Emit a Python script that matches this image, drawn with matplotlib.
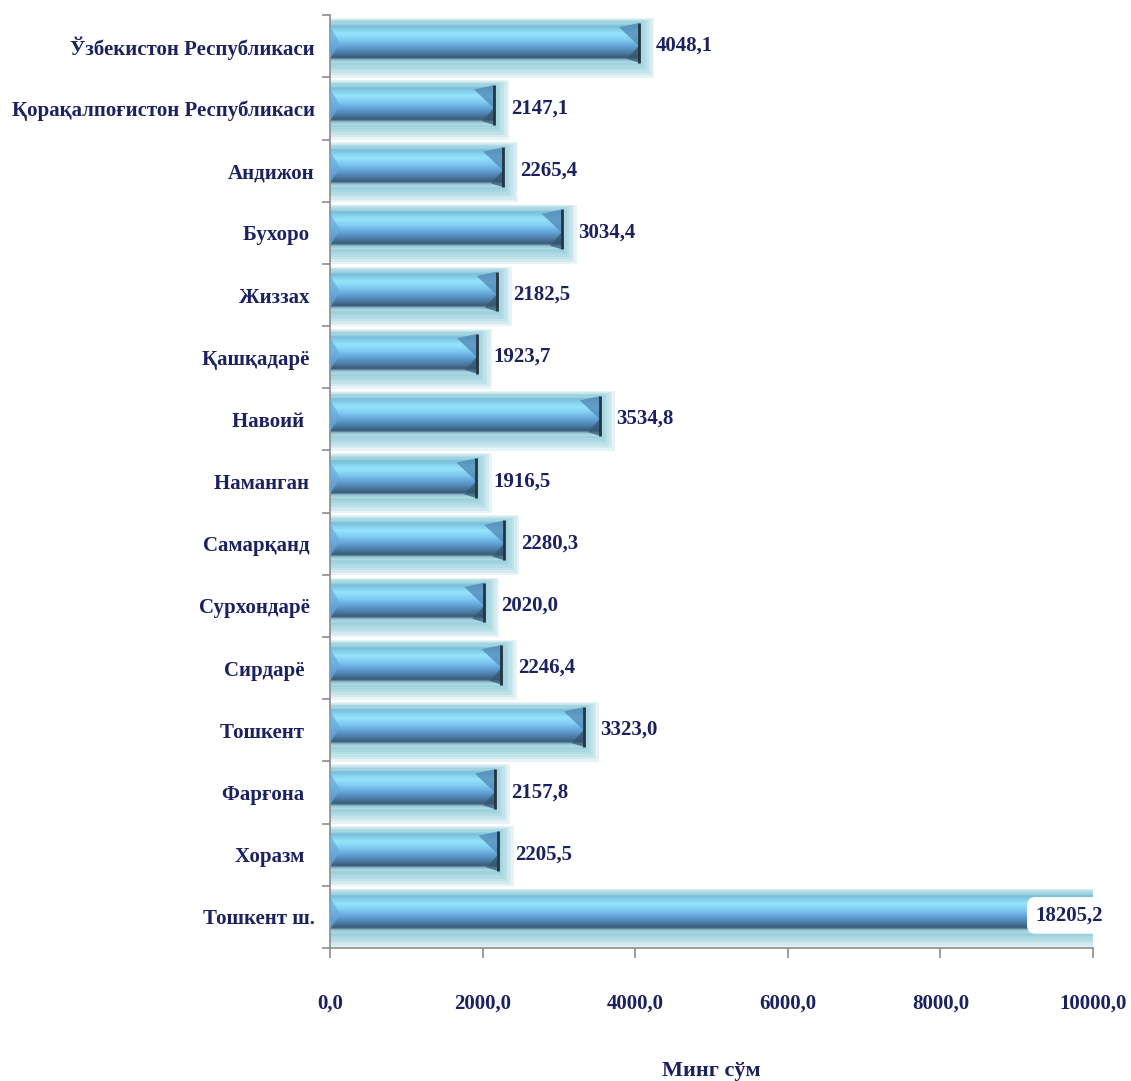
import numpy as np
import matplotlib.pyplot as plt
from matplotlib.colors import LinearSegmentedColormap
from matplotlib.patches import Polygon

plt.rcParams['font.family'] = ['Liberation Serif', 'DejaVu Serif']
plt.rcParams['font.weight'] = 'bold'

# данные
regions = ['Ўзбекистон Республикаси', 'Қорақалпоғистон Республикаси', 'Андижон',
           'Бухоро ', 'Жиззах ', 'Қашқадарё ', 'Навоий  ', 'Наманган ', 'Самарқанд ',
           'Сурхондарё ', 'Сирдарё  ', 'Тошкент  ', 'Фарғона  ', 'Хоразм  ', 'Тошкент ш.']
values = [4048.1, 2147.1, 2265.4, 3034.4, 2182.5, 1923.7, 3534.8, 1916.5, 2280.3,
          2020.0, 2246.4, 3323.0, 2157.8, 2205.5, 18205.2]
xticks = [0, 2000, 4000, 6000, 8000, 10000]
xlabel = 'Минг сўм'

TXT = '#1c2160'
XMAX = 10000

# вертикальный градиент полосы (сверху вниз)
bar_cmap = LinearSegmentedColormap.from_list('bar', [
    (0.00, '#a9d9e4'), (0.07, '#78bedb'), (0.26, '#96e4fc'), (0.42, '#80caf1'),
    (0.60, '#5f9fd3'), (0.76, '#4a79a0'), (0.87, '#385a75'), (0.93, '#93c3d2'),
    (1.00, '#b4dbe5')])
grad = bar_cmap(np.linspace(0, 1, 64))[:, None, :3]

fig = plt.figure(figsize=(11.31, 10.81), dpi=100)
ax = fig.add_axes([0.2918, 0.123, 0.6746, 0.863])

n = len(values)
ypos = np.arange(n)
bh = 0.64
off = -0.055
bev = 260

for y, v in zip(ypos, values):
    yc = y + off
    # свечение
    for k in range(6):
        f = 1 - k / 6
        ax.barh(yc + 0.08 * f, v + 200 * f, height=bh + 0.32 * f, left=0,
                color='#6bbccf', alpha=0.16, linewidth=0, zorder=1)
    # основная полоса
    patch = ax.barh(yc, v, height=bh, left=0, color='none', linewidth=0, zorder=2)[0]
    im = ax.imshow(grad, extent=(0, v, yc + bh / 2, yc - bh / 2), origin='upper',
                   aspect='auto', zorder=2, interpolation='bilinear')
    im.set_clip_path(patch)
    im.set_clip_box(ax.bbox)
    top, bot = yc - bh / 2, yc + bh / 2
    # скосы по краям
    ax.add_patch(Polygon([(v - bev, top + 0.07), (v, top), (v, yc + 0.05)],
                         closed=True, fc='#4f86b6', ec='none', alpha=0.75, zorder=3))
    ax.add_patch(Polygon([(v - bev * 0.6, bot - 0.06), (v, bot), (v, yc + 0.05)],
                         closed=True, fc='#33566f', ec='none', alpha=0.7, zorder=3))
    ax.add_patch(Polygon([(0, top + 0.06), (bev * 0.5, yc), (0, bot - 0.06)],
                         closed=True, fc='#6aa8dc', ec='none', alpha=0.7, zorder=3))
    ax.plot([v, v], [top, bot], color='#26343f', lw=2, zorder=4, solid_capstyle='butt')
    # подпись значения
    lab = f'{v:.1f}'.replace('.', ',')
    if v > XMAX:
        ax.text(XMAX + 130, yc + 0.03, lab, ha='right', va='center', fontsize=15,
                color=TXT, clip_on=False, zorder=6,
                bbox=dict(boxstyle='round,pad=0.4', fc='white', ec='none'))
    else:
        ax.text(v + 220, yc + 0.05, lab, ha='left', va='center', fontsize=15,
                color=TXT, zorder=6)

ax.set_xlim(0, XMAX)
ax.set_ylim(n - 0.5, -0.5)

ax.set_xticks(xticks)
ax.set_xticklabels([f'{t:.1f}'.replace('.', ',') for t in xticks])
ax.set_yticks(ypos)
ax.set_yticklabels(regions)
ax.set_yticks(np.arange(n + 1) - 0.5, minor=True)

ax.tick_params(axis='y', which='major', length=0, pad=11, labelsize=15, labelcolor=TXT)
ax.tick_params(axis='y', which='minor', length=6, color='#8c8c8c', width=1.2)
ax.tick_params(axis='x', length=7, width=1.2, color='#8c8c8c', pad=26,
               labelsize=15, labelcolor=TXT)

for s in ['top', 'right']:
    ax.spines[s].set_visible(False)
for s in ['left', 'bottom']:
    ax.spines[s].set_color('#8c8c8c')
    ax.spines[s].set_linewidth(1.2)

ax.set_xlabel(xlabel, fontsize=16, fontweight='bold', color=TXT, labelpad=34)

fig.savefig('out.png', dpi=100)
